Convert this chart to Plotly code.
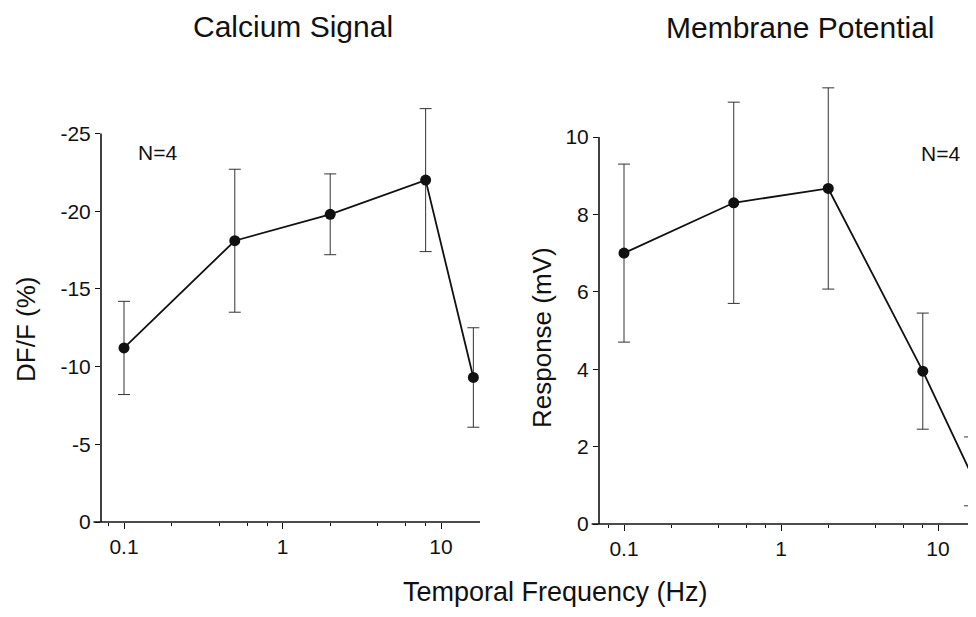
import plotly.graph_objects as go

# ---- data ----
freq_hz = [0.1, 0.5, 2, 8, 16]
calcium_dff = [-11.2, -18.1, -19.8, -22.0, -9.3]
calcium_err = [3.0, 4.6, 2.6, 4.6, 3.2]
membrane_mv = [7.0, 8.3, 8.67, 3.95, 1.36]
membrane_err = [2.3, 2.6, 2.6, 1.5, 0.89]

x_tickvals = [0.1, 1, 10]
x_ticktext = ["0.1", "1", "10"]
x_minor = [0.08, 0.2, 0.4, 0.6, 0.8, 2, 4, 6, 8]
ca_yticks = [0, -5, -10, -15, -20, -25]
ca_yticktext = ["0", "-5", "-10", "-15", "-20", "-25"]
mp_yticks = [0, 2, 4, 6, 8, 10]
mp_yticktext = ["0", "2", "4", "6", "8", "10"]

FONT = "Liberation Sans, Arial, sans-serif"
INK = "#111111"

# the page has an 8px body margin; size the figure so the page is exactly 976x617
PAD = 8
W, H = 976 - 2 * PAD, 617 - 2 * PAD


def xp(X):  # page pixel -> paper fraction
    return (X - PAD) / W


def yp(Y):
    return 1 - (Y - PAD) / H


fig = go.Figure()

fig.add_trace(go.Scatter(
    x=freq_hz, y=calcium_dff, mode="lines+markers",
    line=dict(color=INK, width=1.8),
    marker=dict(color=INK, size=11),
    error_y=dict(type="data", array=calcium_err, color="#333333", thickness=1, width=6),
    xaxis="x", yaxis="y", showlegend=False, cliponaxis=False,
))
fig.add_trace(go.Scatter(
    x=freq_hz, y=membrane_mv, mode="lines+markers",
    line=dict(color=INK, width=1.8),
    marker=dict(color=INK, size=11),
    error_y=dict(type="data", array=membrane_err, color="#333333", thickness=1, width=6),
    xaxis="x2", yaxis="y2", showlegend=False, cliponaxis=False,
))


def xaxis_cfg(domain, rng):
    return dict(
        domain=domain, type="log", range=rng, automargin=False,
        tickmode="array", tickvals=x_tickvals, ticktext=x_ticktext,
        ticks="outside", ticklen=6, tickwidth=1.2, tickcolor=INK,
        minor=dict(tickmode="array", tickvals=x_minor, ticks="outside",
                   ticklen=3, tickwidth=1, tickcolor=INK),
        showline=False, showgrid=False, zeroline=False,
        tickfont=dict(family=FONT, size=21, color=INK),
    )


def yaxis_cfg(domain, rng, tv, tt, anchor):
    return dict(
        domain=domain, range=rng, anchor=anchor, automargin=False,
        tickmode="array", tickvals=tv, ticktext=tt,
        ticks="outside", ticklen=5, tickwidth=1.2, tickcolor=INK,
        showline=False, showgrid=False, zeroline=False,
        tickfont=dict(family=FONT, size=21, color=INK),
    )


# left panel: 0.1 at x=124, 158.5 px/decade; y: 0 at 522, -25 at 133.5
# right panel: 0.1 at x=624, 157 px/decade; y: 0 at 524, 10 at 137
fig.update_layout(
    width=W, height=H,
    margin=dict(l=0, r=0, t=0, b=0, autoexpand=False),
    paper_bgcolor="white", plot_bgcolor="white",
    font=dict(family=FONT, color=INK),
    xaxis=dict(anchor="y", **xaxis_cfg([xp(101), xp(480)],
                                        [-1 - 23 / 158.5, -1 + 356 / 158.5])),
    yaxis=yaxis_cfg([yp(522), yp(100)], [0, -422 / 15.54], ca_yticks, ca_yticktext, "x"),
    xaxis2=dict(anchor="y2", **xaxis_cfg([xp(599), 1.0],
                                          [-1 - 25 / 157, -1 + (968 - 624) / 157])),
    yaxis2=yaxis_cfg([yp(524), yp(80)], [0, 444 / 38.7], mp_yticks, mp_yticktext, "x2"),
)

# axis lines (y spines span only the labelled tick range)
line = dict(color=INK, width=1.6)
fig.add_shape(type="line", xref="x domain", yref="y", x0=0, x1=0, y0=0, y1=-25, line=line)
fig.add_shape(type="line", xref="x domain", yref="y domain", x0=-0.02, x1=1, y0=0, y1=0, line=line)
fig.add_shape(type="line", xref="x2 domain", yref="y2", x0=0, x1=0, y0=0, y1=10, line=line)
fig.add_shape(type="line", xref="x2 domain", yref="y2 domain", x0=-0.02, x1=1, y0=0, y1=0, line=line)


def ann(text, x, y, size, angle=0, yanchor="middle"):
    fig.add_annotation(text=text, x=xp(x), y=yp(y), xref="paper", yref="paper",
                       showarrow=False, textangle=angle, xanchor="center", yanchor=yanchor,
                       font=dict(family=FONT, size=size, color=INK))


ann("Calcium Signal", 293, PAD, 30, yanchor="top")
ann("Membrane Potential", 800, PAD + 1, 30, yanchor="top")
ann("N=4", 157, 152, 21)
ann("N=4", 940, 153, 21)
ann("DF/F (%)", 26, 330, 26, -90)
ann("Response (mV)", 542, 338, 26, -90)
ann("Temporal Frequency (Hz)", 555, 617 - PAD, 27, yanchor="bottom")

fig.write_html("out.html")
